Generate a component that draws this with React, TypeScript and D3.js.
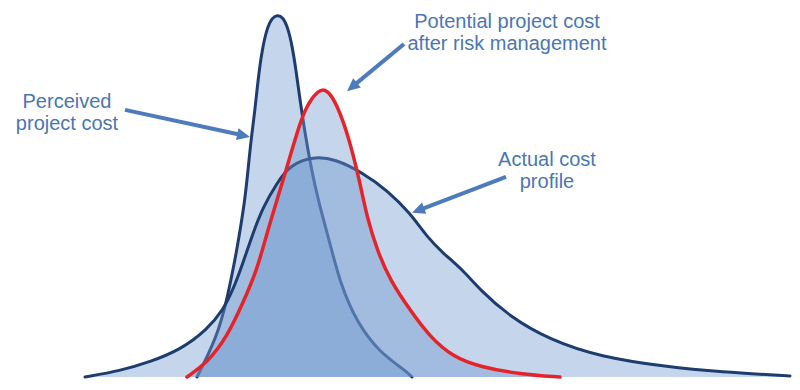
import React, { useEffect, useRef } from 'react';
import * as d3 from 'd3';

// cost (x) vs probability density (y)
const perceivedCost = [
  [23.4, 0], [27.4, 11.1], [29.4, 21.4], [31.4, 35.3], [33.0, 49.2], [33.6, 57.5],
  [34.2, 65.8], [35.0, 74.2], [35.6, 82.5], [36.4, 90.8], [37.4, 96.9], [38.4, 99.7],
  [39.4, 100.6], [40.6, 100.0], [41.6, 96.9], [42.4, 92.2], [43.2, 85.3], [44.0, 76.9],
  [45.0, 67.8], [46.2, 58.3], [47.6, 49.2], [50.0, 37.2], [52.0, 26.1], [55.4, 15.0],
  [60.0, 6.7], [65.0, 1.9], [66.4, 0],
];

const actualCost = [
  [1.0, 0], [8.0, 1.7], [14.0, 4.2], [20.0, 7.5], [25.4, 13.1], [28.6, 18.6],
  [30.6, 24.2], [32.6, 31.7], [34.6, 40.0], [36.6, 47.2], [39.4, 53.9], [42.0, 58.9],
  [46.6, 61.3], [51.0, 60.6], [56.6, 56.7], [61.4, 51.9], [66.0, 45.6], [69.4, 38.9],
  [72.6, 34.4], [76.6, 29.7], [80.0, 24.2], [86.0, 16.7], [94.0, 10.3], [104.0, 5.6],
  [117.4, 2.8], [128.0, 1.4], [142.0, 0.3],
];

const potentialCost = [
  [21.4, 0], [25.4, 3.9], [29.4, 11.1], [32.6, 20.6], [35.4, 29.7], [37.4, 40.0],
  [39.4, 49.2], [41.4, 58.3], [42.4, 63.1], [44.6, 73.3], [46.6, 78.0], [48.4, 80.4],
  [50.4, 78.5], [52.6, 71.4], [54.4, 63.1], [56.0, 53.9], [57.4, 44.4], [59.4, 35.3],
  [62.0, 26.9], [66.0, 18.6], [70.0, 11.1], [74.6, 5.6], [80.0, 2.8], [88.0, 0.8],
  [96.0, 0],
];

const labelLines = [
  ['Perceived', 'project cost'],
  ['Potential project cost', 'after risk management'],
  ['Actual cost', 'profile'],
];
const labelAnchors = [[-2.6, 74.7], [85.4, 96.9], [93.4, 58.6]];

// arrow [from, to] in data units
const arrowEnds = [
  [[9.0, 74.2], [34.0, 66.7]],
  [[64.8, 92.5], [53.4, 79.4]],
  [[85.2, 55.6], [66.4, 45.6]],
];

const App = () => {
  const svgRef = useRef(null);

  useEffect(() => {
    document.body.style.margin = '0';
    const width = 800;
    const height = 390;

    const svg = d3.select(svgRef.current)
      .attr('width', width)
      .attr('height', height);
    svg.selectAll('*').remove();

    const x = d3.scaleLinear().domain([0, 142]).range([80, 790]);
    const y = d3.scaleLinear().domain([0, 100]).range([377, 17]);

    const area = d3.area()
      .x(d => x(d[0]))
      .y0(y(0))
      .y1(d => y(d[1]))
      .curve(d3.curveBasis);

    const line = d3.line()
      .x(d => x(d[0]))
      .y(d => y(d[1]))
      .curve(d3.curveBasis);

    const fill = '#6f96cf';
    const series = [
      { data: perceivedCost, stroke: '#1d3d6e', sw: 3 },
      { data: actualCost, stroke: '#1d3d6e', sw: 3 },
      { data: potentialCost, stroke: '#e5242a', sw: 3.5 },
    ];

    series.forEach(s => {
      svg.append('path')
        .datum(s.data)
        .attr('fill', fill)
        .attr('fill-opacity', 0.4)
        .attr('d', area);
      svg.append('path')
        .datum(s.data)
        .attr('fill', 'none')
        .attr('stroke', s.stroke)
        .attr('stroke-width', s.sw)
        .attr('stroke-linecap', 'round')
        .attr('d', line);
    });

    // arrows
    const arrowColor = '#4d7bbb';
    arrowEnds.forEach(([from, to]) => {
      const x1 = x(from[0]), y1 = y(from[1]);
      const x2 = x(to[0]), y2 = y(to[1]);
      const ang = Math.atan2(y2 - y1, x2 - x1);
      const headLen = 13, headW = 6;
      const bx = x2 - headLen * Math.cos(ang);
      const by = y2 - headLen * Math.sin(ang);
      svg.append('line')
        .attr('x1', x1).attr('y1', y1)
        .attr('x2', bx + 2 * Math.cos(ang)).attr('y2', by + 2 * Math.sin(ang))
        .attr('stroke', arrowColor)
        .attr('stroke-width', 4);
      const px = -Math.sin(ang), py = Math.cos(ang);
      svg.append('path')
        .attr('d', `M${x2},${y2}L${bx + headW * px},${by + headW * py}L${bx - headW * px},${by - headW * py}Z`)
        .attr('fill', arrowColor);
    });

    // labels
    labelLines.forEach((lines, i) => {
      const t = svg.append('text')
        .attr('text-anchor', 'middle')
        .attr('font-family', '"Liberation Sans", Arial, sans-serif')
        .attr('font-size', 20)
        .attr('fill', '#4a76b5');
      lines.forEach((ln, j) => {
        t.append('tspan')
          .attr('x', x(labelAnchors[i][0]))
          .attr('y', y(labelAnchors[i][1]) + j * 22)
          .text(ln);
      });
    });
  }, []);

  return <svg ref={svgRef} style={{ display: 'block' }}></svg>;
};

export default App;
